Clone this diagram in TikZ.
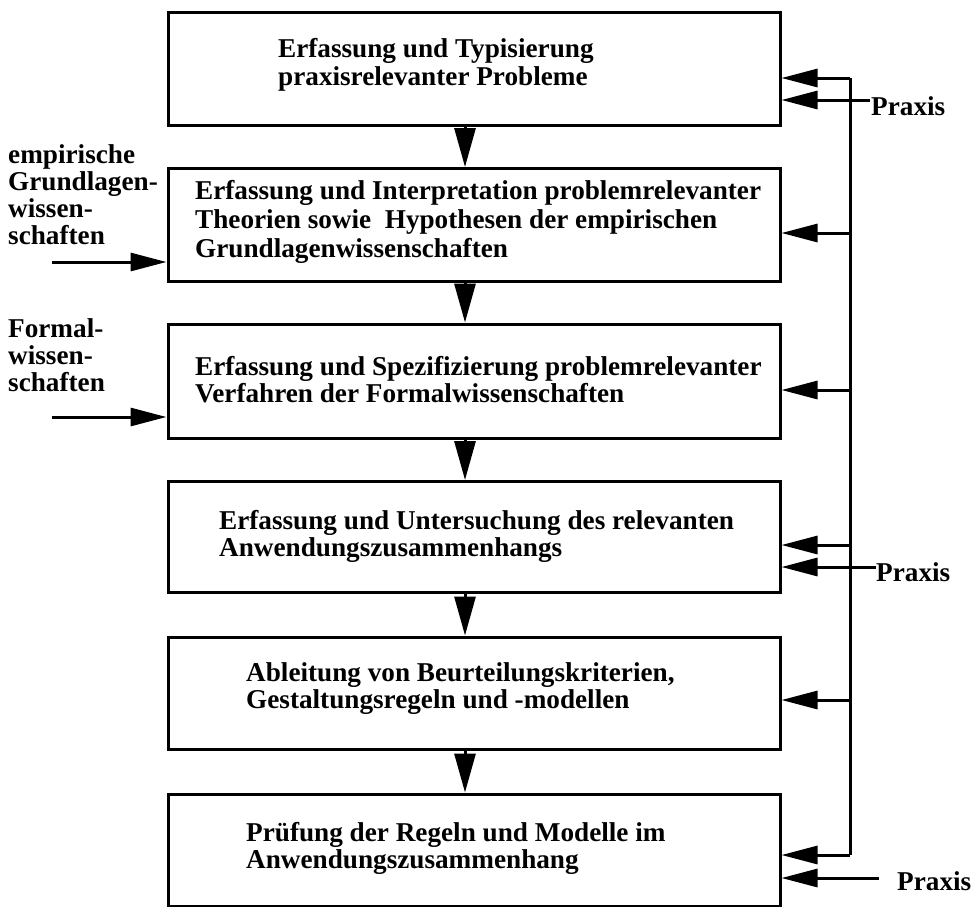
\documentclass[tikz,border=0pt]{standalone}
\usepackage{fontspec}
\setmainfont{Liberation Serif}
\usetikzlibrary{arrows.meta}
\tikzset{
  stepbox/.style={draw, line width=3pt, minimum width=612pt, inner sep=0pt},
  boxtext/.style={anchor=west, align=left, inner sep=0pt, font=\fontsize{27.2}{27}\selectfont\bfseries},
  sidetext/.style={anchor=north west, align=left, inner sep=0pt, font=\fontsize{27.2}{27.2}\selectfont\bfseries},
  downarr/.style={line width=3pt, -{Triangle[length=39pt,width=21pt]}},
  leftarr/.style={line width=3pt, -{Triangle[length=36pt,width=18pt]}},
  inarr/.style={line width=3pt, -{Triangle[length=36pt,width=18pt]}},
  bus/.style={line width=3pt}
}
\begin{document}
\begin{tikzpicture}[x=1pt,y=-1pt]
\useasboundingbox (0,0) rectangle (974,906);
% boxes
\node[stepbox, minimum height=113pt] (b1) at (474,68.5) {};
\node[stepbox, minimum height=113pt] (b2) at (474,225) {};
\node[stepbox, minimum height=114pt] (b3) at (474,381) {};
\node[stepbox, minimum height=111pt] (b4) at (474,537) {};
\node[stepbox, minimum height=112pt] (b5) at (474,693) {};
\node[stepbox, minimum height=112pt] (b6) at (474,850) {};
% texts
\node[boxtext, font=\fontsize{27.2}{28}\selectfont\bfseries] (t1) at (278,65) {Erfassung und Typisierung\\praxisrelevanter Probleme};
\node[boxtext, font=\fontsize{27.2}{29}\selectfont\bfseries] (t2) at (195,222) {Erfassung und Interpretation problemrelevanter\\Theorien sowie\ \ Hypothesen der empirischen\\Grundlagenwissenschaften};
\node[boxtext] (t3) at (195,380) {Erfassung und Spezifizierung problemrelevanter\\Verfahren der Formalwissenschaften};
\node[boxtext] (t4) at (219,536) {Erfassung und Untersuchung des relevanten\\Anwendungszusammenhangs};
\node[boxtext] (t5) at (246,689) {Ableitung von Beurteilungskriterien,\\Gestaltungsregeln und -modellen};
\node[boxtext] (t6) at (246,848) {Prüfung der Regeln und Modelle im\\Anwendungszusammenhang};
% down arrows
\draw[downarr] ([xshift=-9pt]b1.south) -- ([xshift=-9pt]b2.north);
\draw[downarr] ([xshift=-9pt]b2.south) -- ([xshift=-9pt]b3.north);
\draw[downarr] ([xshift=-9pt]b3.south) -- ([xshift=-9pt]b4.north);
\draw[downarr] ([xshift=-9pt]b4.south) -- ([xshift=-9pt]b5.north);
\draw[downarr] ([xshift=-9pt]b5.south) -- ([xshift=-9pt]b6.north);
% left inputs
\node[sidetext] (l1) at (8,144) {empirische\\Grundlagen-\\wissen-\\schaften};
\node[sidetext] (l2) at (8,318) {Formal-\\wissen-\\schaften};
\coordinate (e1) at (52,262);
\coordinate (e2) at (52,417);
\draw[leftarr] (e1) -- (b2.west |- e1);
\draw[leftarr] (e2) -- (b3.west |- e2);
% feedback bus
\coordinate (f1) at (850,78);
\coordinate (f2) at (850,233);
\coordinate (f3) at (850,390);
\coordinate (f4) at (850,545);
\coordinate (f5) at (850,700);
\coordinate (f6) at (850,855);
\draw[bus] (f1) -- (f6);
\draw[inarr] (f1) -- (b1.east |- f1);
\draw[inarr] (f2) -- (b2.east |- f2);
\draw[inarr] (f3) -- (b3.east |- f3);
\draw[inarr] (f4) -- (b4.east |- f4);
\draw[inarr] (f5) -- (b5.east |- f5);
\draw[inarr] (f6) -- (b6.east |- f6);
% Praxis inputs
\node[boxtext] (p1) at (871,106) {Praxis};
\node[boxtext] (p2) at (876,572) {Praxis};
\node[boxtext] (p3) at (897,881) {Praxis};
\coordinate (q1) at (870,100);
\coordinate (q2) at (876,567);
\coordinate (q3) at (879,878);
\draw[inarr] (q1) -- (b1.east |- q1);
\draw[inarr] (q2) -- (b4.east |- q2);
\draw[inarr] (q3) -- (b6.east |- q3);
\end{tikzpicture}
\end{document}
